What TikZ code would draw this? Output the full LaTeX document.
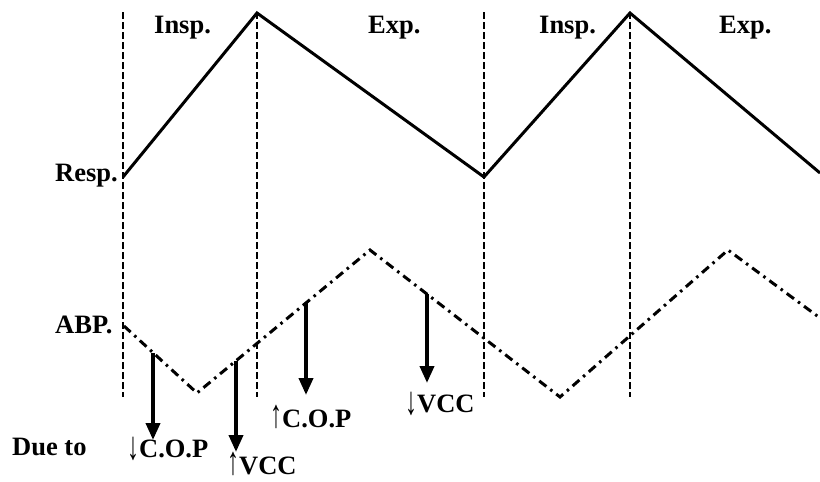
\documentclass[tikz,border=0pt]{standalone}
\usepackage{fontspec}
\usepackage{graphicx}
\setmainfont{Liberation Serif}
\usetikzlibrary{arrows.meta}
% tall thin arrows used in the cause labels
\newcommand\incr{\scalebox{0.9}[1.5]{↑}}
\newcommand\decr{\raisebox{-2.5pt}{\scalebox{0.9}[1.5]{↓}}}
\begin{document}
\begin{tikzpicture}[x=1pt,y=-1pt,
  lbl/.style={font=\bfseries\fontsize{26.5}{30}\selectfont, inner sep=0pt, anchor=base west},
  phase/.style={line width=2.5pt, dash pattern=on 6.5pt off 3.5pt},
  resp/.style={line width=3pt, line join=miter},
  abp/.style={line width=3pt, dash pattern=on 9pt off 5pt on 2.5pt off 5pt},
  cause/.style={line width=3.8pt, -{Triangle[length=17pt,width=14pt]}}]
\useasboundingbox (0,0) rectangle (820,482);

% phase boundaries
\foreach \n/\x in {a/123, b/257, c/484, d/630} {
  \coordinate (\n top) at (\x,12);
  \coordinate (\n bot) at (\x,397);
  \draw[phase] (\n top) -- (\n bot);
}

% respiration trace
\coordinate (r0) at (123,177);
\coordinate (r1) at (257,13);
\coordinate (r2) at (484,177);
\coordinate (r3) at (630,13);
\coordinate (r4) at (820,173);
\draw[resp] (r0) -- (r1) -- (r2) -- (r3) -- (r4);

% arterial blood pressure trace
\coordinate (p0) at (124,326);
\coordinate (p1) at (197,393);
\coordinate (p2) at (370,250);
\coordinate (p3) at (560,397);
\coordinate (p4) at (728,250);
\coordinate (p5) at (820,318);
\draw[abp] (p0) -- (p1) -- (p2) -- (p3) -- (p4) -- (p5);

% labels
\node[lbl] (resp) at (55,181) {Resp.};
\node[lbl] (abp) at (55,333) {ABP.};
\node[lbl] (due) at (12,455) {Due to};
\node[lbl] (in1) at (154,33) {Insp.};
\node[lbl] (ex1) at (368,33) {Exp.};
\node[lbl] (in2) at (539,33) {Insp.};
\node[lbl] (ex2) at (719,33) {Exp.};

\node[lbl] (c1) at (127,457) {\decr C.O.P};
\node[lbl] (c2) at (227,474) {\incr VCC};
\node[lbl] (c3) at (270,427) {\incr C.O.P};
\node[lbl] (c4) at (405,412) {\decr VCC};

% cause arrows
\coordinate (s1) at (153,353);
\coordinate (t1) at (153,440);
\coordinate (s2) at (236,361);
\coordinate (t2) at (236,452);
\coordinate (s3) at (306,303);
\coordinate (t3) at (306,395);
\coordinate (s4) at (427,294);
\coordinate (t4) at (427,383);
\foreach \i in {1,...,4} \draw[cause] (s\i) -- (t\i);
\end{tikzpicture}
\end{document}
